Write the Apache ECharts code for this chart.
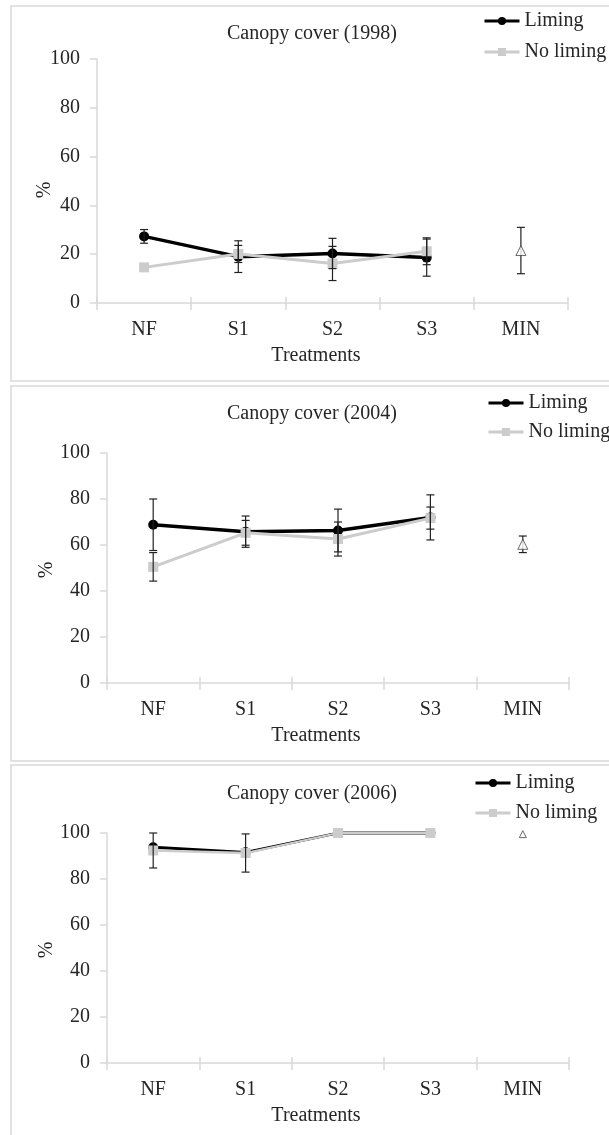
<!DOCTYPE html>
<html>
<head>
<meta charset="utf-8">
<title>Canopy cover</title>
<script src="https://cdn.jsdelivr.net/npm/echarts@6/dist/echarts.min.js"></script>
<style>
html, body { margin: 0; padding: 0; background: #fff; }
#main { width: 609px; height: 1135px; }
</style>
</head>
<body>
<div id="main"></div>
<script>
var categories = ['NF', 'S1', 'S2', 'S3', 'MIN'];
var yTicks = [0, 20, 40, 60, 80, 100];
var years = ['1998', '2004', '2006'];

// means and error bar half-lengths
var liming1998 = [27.3, 19.0, 20.3, 18.6, null];
var liming1998Err = [2.8, 6.5, 6.2, 7.6, null];
var noLiming1998 = [14.6, 20.1, 16.2, 21.2, null];
var noLiming1998Err = [0, 3.5, 7.0, 5.5, null];
var min1998 = [null, null, null, null, 21.5];
var min1998Err = [null, null, null, null, 9.5];

var liming2004 = [68.8, 65.8, 66.3, 72.0, null];
var liming2004Err = [11.2, 6.8, 9.3, 9.8, null];
var noLiming2004 = [50.5, 65.3, 62.6, 71.7, null];
var noLiming2004Err = [6.2, 5.4, 7.4, 4.8, null];
var min2004 = [null, null, null, null, 60.3];
var min2004Err = [null, null, null, null, 3.6];

var liming2006 = [93.8, 91.6, 100, 100, null];
var liming2006Err = [0, 0, 0, 0, null];
var noLiming2006 = [92.4, 91.3, 100, 100, null];
var noLiming2006Err = [7.6, 8.3, 0, 0, null];
var min2006 = [null, null, null, null, 99.5];
var min2006Err = [null, null, null, null, 0];

window.onload = function () {
	var chart = echarts.init(document.getElementById('main'));
	var font = 'Liberation Serif';
	var textColor = '#262626';
	var axisGray = '#d9d9d9';
	var gray = '#cccccc';

	var panels = [
		{ lim: liming1998, limErr: liming1998Err, no: noLiming1998, noErr: noLiming1998Err, min: min1998, minErr: min1998Err,
		  box: 6, grid: { left: 97, right: 41, top: 59, height: 244 }, legend: { left: 483, top: 11, gap: 11 },
		  titleTop: 24, nameGap: 42, namePadY: 18, namePad: 33, lw: 3.5, tri: 10 },
		{ lim: liming2004, limErr: liming2004Err, no: noLiming2004, noErr: noLiming2004Err, min: min2004, minErr: min2004Err,
		  box: 386, grid: { left: 107, right: 40, top: 453, height: 230 }, legend: { left: 487, top: 393, gap: 9 },
		  titleTop: 404, nameGap: 50, namePadY: 4, namePad: 44, lw: 3.5, tri: 10 },
		{ lim: liming2006, limErr: liming2006Err, no: noLiming2006, noErr: noLiming2006Err, min: min2006, minErr: min2006Err,
		  box: 765, grid: { left: 107, right: 40, top: 833, height: 230 }, legend: { left: 474, top: 773, gap: 10 },
		  titleTop: 784, nameGap: 50, namePadY: 4, namePad: 44, lw: 2.8, tri: 7 }
	];

	function errData(means, errs) {
		var out = [];
		for (var i = 0; i < means.length; i++) {
			if (means[i] != null && errs[i]) {
				out.push([i, means[i] - errs[i], means[i] + errs[i]]);
			}
		}
		return out;
	}

	function errorBarItem(params, api) {
		var x = api.value(0);
		var lo = api.coord([x, api.value(1)]);
		var hi = api.coord([x, api.value(2)]);
		var w = 4;
		var style = { stroke: '#222', lineWidth: 1.2 };
		return {
			type: 'group',
			children: [
				{ type: 'line', shape: { x1: lo[0], y1: lo[1], x2: hi[0], y2: hi[1] }, style: style },
				{ type: 'line', shape: { x1: lo[0] - w, y1: lo[1], x2: lo[0] + w, y2: lo[1] }, style: style },
				{ type: 'line', shape: { x1: hi[0] - w, y1: hi[1], x2: hi[0] + w, y2: hi[1] }, style: style }
			]
		};
	}

	var option = {
		animation: false,
		backgroundColor: '#fff',
		title: [], legend: [], grid: [], xAxis: [], yAxis: [], series: [], graphic: []
	};

	panels.forEach(function (p, k) {
		option.graphic.push({
			type: 'rect', z: -1,
			shape: { x: 11, y: p.box, width: 601, height: 375 },
			style: { fill: 'none', stroke: axisGray, lineWidth: 1.5 }
		});
		option.title.push({
			text: 'Canopy cover (' + years[k] + ')',
			left: 312, top: p.titleTop, textAlign: 'center', padding: 0,
			textStyle: { fontFamily: font, fontSize: 20, fontWeight: 'normal', color: textColor }
		});
		option.legend.push({
			orient: 'vertical', left: p.legend.left, top: p.legend.top,
			itemGap: p.legend.gap, itemWidth: 35, itemHeight: 10, padding: 0,
			lineStyle: { width: 3 },
			data: ['Liming', 'No liming'],
			textStyle: { fontFamily: font, fontSize: 20, color: textColor, lineHeight: 20 }
		});
		option.grid.push({ left: p.grid.left, right: p.grid.right, top: p.grid.top, height: p.grid.height });
		option.xAxis.push({
			type: 'category', gridIndex: k, data: categories,
			name: 'Treatments', nameLocation: 'middle', nameGap: 43, nameMoveOverlap: false,
			nameTextStyle: { fontFamily: font, fontSize: 20, color: textColor, padding: [0, p.namePad, 0, 0] },
			axisLine: { lineStyle: { color: axisGray, width: 1.5 } },
			axisTick: { show: true, length: 7, lineStyle: { color: axisGray, width: 1.5 } },
			axisLabel: { fontFamily: font, fontSize: 20, color: textColor, margin: 17 },
			splitLine: { show: false }
		});
		option.xAxis.push({
			type: 'category', gridIndex: k, data: categories, position: 'bottom',
			axisLine: { show: false },
			axisTick: { show: true, inside: true, length: 6, lineStyle: { color: axisGray, width: 1.5 } },
			axisLabel: { show: false }, splitLine: { show: false }
		});
		option.yAxis.push({
			type: 'value', gridIndex: k, min: yTicks[0], max: yTicks[yTicks.length - 1], interval: 20,
			name: '%', nameLocation: 'middle', nameGap: p.nameGap, nameMoveOverlap: false,
			nameTextStyle: { fontFamily: font, fontSize: 20, color: textColor, padding: [0, p.namePadY, 0, 0] },
			axisLine: { show: true, lineStyle: { color: axisGray, width: 1.5 } },
			axisTick: { show: true, length: 7, lineStyle: { color: axisGray, width: 1.5 } },
			axisLabel: { fontFamily: font, fontSize: 20, color: textColor, margin: 17 },
			splitLine: { show: false }
		});

		var xi = k * 2;
		option.series.push({
			name: 'Liming', type: 'line', xAxisIndex: xi, yAxisIndex: k, data: p.lim, clip: false,
			symbol: 'circle', symbolSize: 10, z: 2,
			lineStyle: { color: '#000', width: p.lw }, itemStyle: { color: '#000' }
		});
		option.series.push({
			name: 'No liming', type: 'line', xAxisIndex: xi, yAxisIndex: k, data: p.no, clip: false,
			symbol: 'rect', symbolSize: 10, z: 3,
			lineStyle: { color: gray, width: p.lw - 0.5 }, itemStyle: { color: gray }
		});
		option.series.push({
			name: 'MIN', type: 'scatter', xAxisIndex: xi, yAxisIndex: k, data: p.min, clip: false,
			symbol: 'triangle', symbolSize: p.tri, z: 5,
			itemStyle: { color: '#fff', borderColor: '#444', borderWidth: 1 }
		});
		[[p.lim, p.limErr], [p.no, p.noErr], [p.min, p.minErr]].forEach(function (pair) {
			option.series.push({
				type: 'custom', xAxisIndex: xi, yAxisIndex: k, clip: false, z: 4,
				renderItem: errorBarItem,
				encode: { x: 0, y: [1, 2] },
				data: errData(pair[0], pair[1])
			});
		});
	});

	chart.setOption(option);
};
</script>
</body>
</html>
